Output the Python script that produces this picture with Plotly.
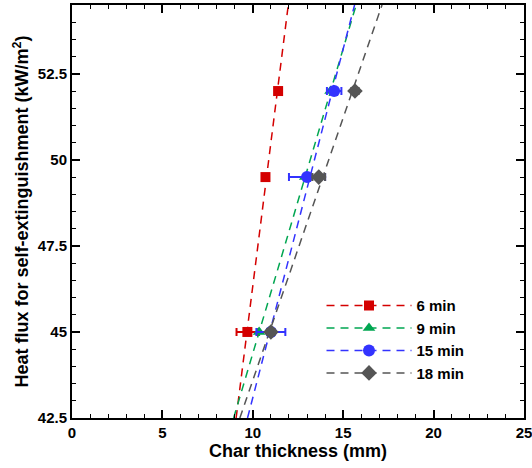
import numpy as np
import plotly.graph_objects as go

# Heat flux levels (kW/m2)
flux = [45, 49.5, 52]

series_names = ["6 min", "9 min", "15 min", "18 min"]
thick_6 = [9.7, 10.7, 11.4]
err_6 = [0.6, 0.0, 0.0]
thick_9 = [10.35, 12.9, 14.3]
err_9 = [0.0, 0.0, 0.0]
thick_15 = [11.0, 13.0, 14.5]
err_15 = [0.8, 1.0, 0.4]
thick_18 = [11.0, 13.65, 15.65]
err_18 = [0.2, 0.35, 0.2]

colors = ["#d40000", "#00a651", "#3333ff", "#555555"]
symbols = ["square", "triangle-up", "circle", "diamond"]
sizes = [10, 11, 12, 12]

y_range = [42.5, 54.5]
x_range = [0, 25]

fig = go.Figure()
data = [(thick_6, err_6), (thick_9, err_9), (thick_15, err_15), (thick_18, err_18)]

for (xs, es), name, c, s, sz in zip(data, series_names, colors, symbols, sizes):
    a, b = np.polyfit(flux, xs, 1)
    fy = np.array(y_range)
    fx = a * fy + b
    fig.add_trace(go.Scatter(x=fx, y=fy, mode="lines",
                             line=dict(color=c, width=1.5, dash="8px,6px"),
                             showlegend=False, hoverinfo="skip"))

for (xs, es), name, c, s, sz in zip(data, series_names, colors, symbols, sizes):
    fig.add_trace(go.Scatter(x=xs, y=flux, mode="markers",
                             marker=dict(color=c, symbol=s, size=sz),
                             error_x=dict(type="data", array=es, visible=True,
                                          color=c, thickness=2, width=4),
                             showlegend=False))
    fig.add_trace(go.Scatter(x=[None], y=[None], mode="lines+markers", name=name,
                             marker=dict(color=c, symbol=s, size=sz),
                             line=dict(color=c, width=1.5, dash="8px,6px")))

axis_common = dict(showline=True, linecolor="black", linewidth=2, mirror="allticks",
                   ticks="inside", ticklen=8, tickwidth=2, tickcolor="black",
                   showgrid=False, zeroline=False, automargin=False,
                   ticklabeloverflow="allow",
                   tickfont=dict(family="Liberation Sans", size=15, color="black", weight="bold"))

title_font = dict(family="Liberation Sans", size=18, color="black", weight="bold")

fig.update_xaxes(range=x_range, dtick=5, tick0=0,
                 minor=dict(dtick=1, ticks="inside", ticklen=4, tickwidth=1, tickcolor="black"),
                 **axis_common)
fig.update_yaxes(range=y_range, dtick=2.5, tick0=42.5,
                 minor=dict(dtick=0.5, ticks="inside", ticklen=4, tickwidth=1, tickcolor="black"),
                 title=dict(text="Heat flux for self-extinguishment (kW/m<sup>2</sup>)", standoff=4,
                            font=title_font),
                 **axis_common)

fig.add_annotation(text="Char thickness (mm)", xref="paper", yref="paper",
                   x=0.5, y=-0.08, xanchor="center", yanchor="middle",
                   showarrow=False, font=title_font)

fig.update_layout(width=532, height=468, margin=dict(l=72, r=8, t=5, b=50, autoexpand=False),
                  plot_bgcolor="white", paper_bgcolor="white",
                  legend=dict(x=0.552, y=0.312, xanchor="left", yanchor="top",
                              bgcolor="rgba(0,0,0,0)", itemwidth=85, tracegroupgap=0,
                              font=dict(family="Liberation Sans", size=15, color="black", weight="bold")))

fig.write_html("out.html", config={"displayModeBar": False},
               post_script="document.body.style.margin='0';")
